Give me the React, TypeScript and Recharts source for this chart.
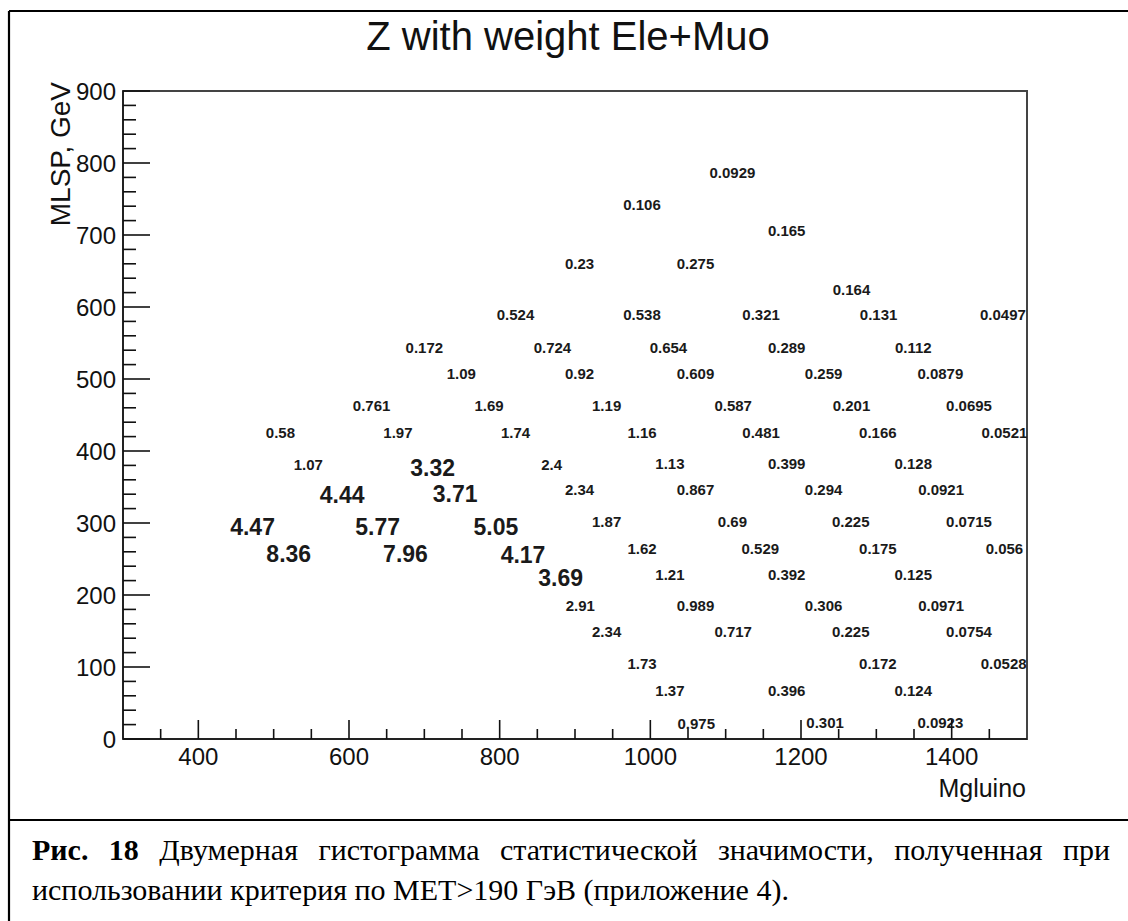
import { ReferenceArea, Scatter, ScatterChart, XAxis, YAxis } from "recharts";

// bin centres (Mgluino, MLSP) and the significance drawn there
const mGluino = [
  1109, 989, 1181, 906, 1060, 1267, 821, 989, 1147, 1303, 1468, 700, 870, 1024, 1181, 1349,
  749, 906, 1060, 1230, 1385, 630, 786, 942, 1110, 1267, 1423, 509, 665, 821, 989, 1147,
  1302, 1470, 546, 711, 869, 1026, 1181, 1349, 591, 741, 906, 1060, 1230, 1386, 472, 638,
  795, 942, 1109, 1266, 1423, 520, 675, 831, 989, 1146, 1302, 1470, 881, 1026, 1181, 1349,
  907, 1060, 1230, 1386, 942, 1110, 1266, 1423, 989, 1302, 1469, 1026, 1181, 1349, 1061,
  1232, 1385,
];
const mLsp = [
  787, 743, 706, 660, 660, 625, 590, 590, 590, 590, 590, 544, 544, 544, 544, 544, 507, 507,
  507, 507, 507, 463, 463, 463, 463, 463, 463, 426, 426, 426, 426, 426, 426, 426, 381, 376,
  381, 382, 382, 382, 339, 340, 346, 347, 346, 346, 295, 295, 295, 302, 302, 302, 302, 257,
  257, 256, 265, 265, 265, 265, 223, 228, 228, 228, 186, 186, 186, 186, 149, 149, 149, 149,
  105, 105, 105, 68, 68, 68, 22, 23, 23,
];
const signif = [
  0.0929, 0.106, 0.165, 0.23, 0.275, 0.164, 0.524, 0.538, 0.321, 0.131, 0.0497, 0.172, 0.724,
  0.654, 0.289, 0.112, 1.09, 0.92, 0.609, 0.259, 0.0879, 0.761, 1.69, 1.19, 0.587, 0.201,
  0.0695, 0.58, 1.97, 1.74, 1.16, 0.481, 0.166, 0.0521, 1.07, 3.32, 2.4, 1.13, 0.399, 0.128,
  4.44, 3.71, 2.34, 0.867, 0.294, 0.0921, 4.47, 5.77, 5.05, 1.87, 0.69, 0.225, 0.0715, 8.36,
  7.96, 4.17, 1.62, 0.529, 0.175, 0.056, 3.69, 1.21, 0.392, 0.125, 2.91, 0.989, 0.306, 0.0971,
  2.34, 0.717, 0.225, 0.0754, 1.73, 0.172, 0.0528, 1.37, 0.396, 0.124, 0.975, 0.301, 0.0923,
];

const xTicks = [
  350, 400, 450, 500, 550, 600, 650, 700, 750, 800, 850, 900, 950, 1000, 1050, 1100, 1150,
  1200, 1250, 1300, 1350, 1400, 1450,
];
const yTicks = [
  0, 20, 40, 60, 80, 100, 120, 140, 160, 180, 200, 220, 240, 260, 280, 300, 320, 340, 360, 380,
  400, 420, 440, 460, 480, 500, 520, 540, 560, 580, 600, 620, 640, 660, 680, 700, 720, 740, 760,
  780, 800, 820, 840, 860, 880, 900,
];

const SANS = "'Liberation Sans', Arial, Helvetica, sans-serif";
const SERIF = "'Liberation Serif', 'Times New Roman', serif";

const points = mGluino.map((x, i) => ({ x, y: mLsp[i], v: signif[i] }));

// ROOT-style ticks: pointing into the frame, long on labelled values
function renderXTick(props: any) {
  const { x, y, payload } = props;
  const major = payload.value % 200 === 0;
  return (
    <g key={`xt-${payload.value}`}>
      <line x1={x} y1={y} x2={x} y2={y - (major ? 19 : 10)} stroke="#111" strokeWidth={1.6} />
      {major && (
        <text x={x} y={y + 26} textAnchor="middle" fontFamily={SANS} fontSize={24} fill="#111">
          {payload.value}
        </text>
      )}
    </g>
  );
}

function renderYTick(props: any) {
  const { x, y, payload } = props;
  const major = payload.value % 100 === 0;
  return (
    <g key={`yt-${payload.value}`}>
      <line x1={x} y1={y} x2={x + (major ? 27 : 13)} y2={y} stroke="#111" strokeWidth={1.6} />
      {major && (
        <text x={x - 7} y={y + 8.5} textAnchor="end" fontFamily={SANS} fontSize={24} fill="#111">
          {payload.value}
        </text>
      )}
    </g>
  );
}

function BinText(props: any) {
  const { cx, cy, payload } = props;
  const big = payload.v >= 3;
  return (
    <text
      x={cx}
      y={cy}
      textAnchor="middle"
      dominantBaseline="central"
      fontFamily={SANS}
      fontWeight="bold"
      fontSize={big ? 23 : 15}
      fill="#1a1a1a"
    >
      {String(payload.v)}
    </text>
  );
}

export default function App() {
  return (
    <div style={{ position: "absolute", left: 0, top: 0, width: 1128, height: 921, background: "#fff" }}>
      <ScatterChart width={1128} height={921} margin={{ top: 91, right: 101, bottom: 152, left: 63 }}>
        <XAxis
          type="number"
          dataKey="x"
          domain={[300, 1500]}
          allowDataOverflow
          ticks={xTicks}
          interval={0}
          height={30}
          tickSize={0}
          tickMargin={0}
          tick={renderXTick}
          axisLine={{ stroke: "#222", strokeWidth: 2 }}
          tickLine={false}
        />
        <YAxis
          type="number"
          dataKey="y"
          domain={[0, 900]}
          allowDataOverflow
          ticks={yTicks}
          interval={0}
          width={60}
          tickSize={0}
          tickMargin={0}
          tick={renderYTick}
          axisLine={{ stroke: "#222", strokeWidth: 2 }}
          tickLine={false}
        />
        <ReferenceArea x1={300} x2={1500} y1={0} y2={900} fill="none" fillOpacity={0} stroke="#444" strokeWidth={2} />
        <Scatter data={points} shape={<BinText />} isAnimationActive={false} />
      </ScatterChart>

      <svg
        width={1128}
        height={921}
        style={{ position: "absolute", left: 0, top: 0, pointerEvents: "none" }}
      >
        <line x1={9} y1={11} x2={1128} y2={11} stroke="#000" strokeWidth={2.2} />
        <line x1={9} y1={11} x2={9} y2={921} stroke="#000" strokeWidth={2.2} />
        <line x1={9} y1={820} x2={1128} y2={820} stroke="#000" strokeWidth={2.2} />
        <text x={568} y={50} textAnchor="middle" fontFamily={SANS} fontSize={40} fill="#111">
          Z with weight Ele+Muo
        </text>
        <text
          x={70}
          y={82}
          transform="rotate(-90, 70, 82)"
          textAnchor="end"
          fontFamily={SANS}
          fontSize={28}
          fill="#111"
        >
          MLSP, GeV
        </text>
        <text x={1026} y={797} textAnchor="end" fontFamily={SANS} fontSize={25} fill="#111">
          Mgluino
        </text>
      </svg>

      <div
        style={{
          position: "absolute",
          left: 32,
          top: 830,
          width: 1078,
          fontFamily: SERIF,
          fontSize: 30,
          lineHeight: "40px",
          color: "#000",
        }}
      >
        <div style={{ textAlign: "justify", textAlignLast: "justify" }}>
          <b>Рис. 18</b> Двумерная гистограмма статистической значимости, полученная при
        </div>
        <div>использовании критерия по MET&gt;190 ГэВ (приложение 4).</div>
      </div>
    </div>
  );
}
